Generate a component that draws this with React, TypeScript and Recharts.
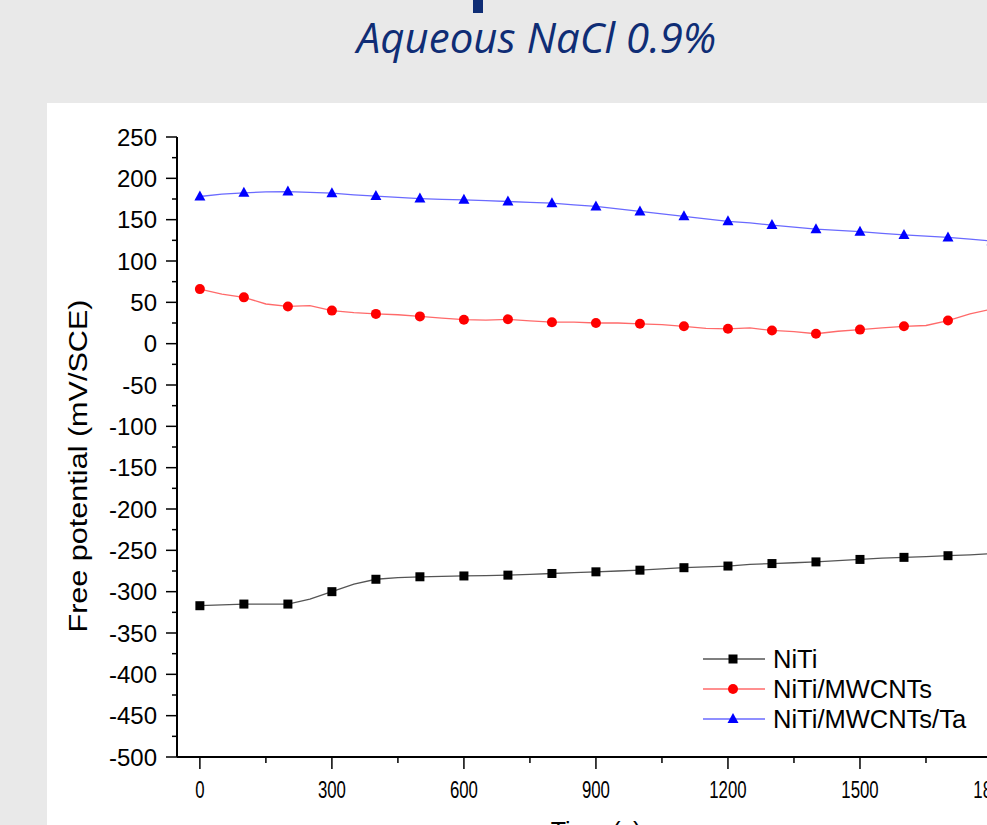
import { LineChart, Line, XAxis, YAxis, Legend } from "recharts";

// time in s, potential in mV/SCE
const TIME = [
	0, 50, 100, 150, 200, 250, 300, 350, 400, 450, 500, 550, 600, 650, 700, 750, 800, 850, 900,
	950, 1000, 1050, 1100, 1150, 1200, 1250, 1300, 1350, 1400, 1450, 1500, 1550, 1600, 1650, 1700,
	1750, 1800,
];
const NITI = [
	-317, -316, -315, -315, -315, -309, -300, -291, -285, -283, -282, -281.5, -281, -280.5, -280,
	-279, -278, -277, -276, -275, -274, -272.5, -271, -270, -269, -267, -266, -265, -264, -262.5,
	-261, -259.5, -258.5, -257.5, -256.5, -255.5, -254,
];
const NITI_MWCNT = [
	66, 60, 56, 48, 45, 46, 40, 37.5, 36, 35, 33, 31, 29, 28.5, 29.5, 27.5, 26, 26, 25, 25, 24, 23,
	21, 18.5, 18, 19, 16, 14.5, 12, 15, 17, 19, 21, 22, 28, 36, 42,
];
const NITI_MWCNT_TA = [
	178, 181, 182.5, 183.5, 184, 183, 182, 180, 178.5, 177, 175.5, 174.5, 174, 173, 172, 171, 170,
	168, 166, 163, 160, 157, 154, 151, 148, 146, 143.5, 141, 138.5, 137, 135.5, 133.5, 131.5, 130,
	128.5, 126.5, 124,
];

const X_TICKS = [0, 150, 300, 450, 600, 750, 900, 1050, 1200, 1350, 1500, 1650, 1800];
const Y_TICKS = [
	-500, -475, -450, -425, -400, -375, -350, -325, -300, -275, -250, -225, -200, -175, -150, -125,
	-100, -75, -50, -25, 0, 25, 50, 75, 100, 125, 150, 175, 200, 225, 250,
];

const SERIES = [
	{ key: "niti", label: "NiTi", stroke: "#555555", fill: "#000000", shape: "square" },
	{ key: "mwcnt", label: "NiTi/MWCNTs", stroke: "#ff6a6a", fill: "#ff0000", shape: "circle" },
	{ key: "ta", label: "NiTi/MWCNTs/Ta", stroke: "#6a6aff", fill: "#0000ff", shape: "triangle" },
] as const;

const data = TIME.map((t, i) => ({
	time: t,
	niti: NITI[i],
	mwcnt: NITI_MWCNT[i],
	ta: NITI_MWCNT_TA[i],
}));

const FONT = "'Liberation Sans', Arial, sans-serif";

function Marker({ shape, cx, cy, fill }: { shape: string; cx: number; cy: number; fill: string }) {
	if (shape === "square") return <rect x={cx - 4.5} y={cy - 4.5} width={9} height={9} fill={fill} />;
	if (shape === "circle") return <circle cx={cx} cy={cy} r={5} fill={fill} />;
	return <polygon points={`${cx},${cy - 6} ${cx + 5.5},${cy + 4} ${cx - 5.5},${cy + 4}`} fill={fill} />;
}

// markers only every 100 s
const makeDot = (shape: string, fill: string) => (props: any) => {
	const { cx, cy, payload, index } = props;
	if (payload.time % 100 !== 0) return <g key={`e-${index}`} />;
	return (
		<g key={`d-${index}`}>
			<Marker shape={shape} cx={cx} cy={cy} fill={fill} />
		</g>
	);
};

const YTick = (props: any) => {
	const { x, y, payload } = props;
	const major = payload.value % 50 === 0;
	return (
		<g>
			<line x1={x - (major ? 11 : 5)} x2={x} y1={y} y2={y} stroke="#000" strokeWidth={1.5} />
			{major && (
				<text x={x - 20} y={y} dy="0.36em" textAnchor="end" fontSize={24} fontFamily={FONT} fill="#000">
					{payload.value}
				</text>
			)}
		</g>
	);
};

const XTick = (props: any) => {
	const { x, y, payload } = props;
	const major = payload.value % 300 === 0;
	return (
		<g>
			<line x1={x} x2={x} y1={y} y2={y + (major ? 12 : 6)} stroke="#000" strokeWidth={1.5} />
			{major && (
				<text
					transform={`translate(${x},${y + 41}) scale(0.7,1)`}
					textAnchor="middle"
					fontSize={24}
					fontFamily={FONT}
					fill="#000"
				>
					{payload.value}
				</text>
			)}
		</g>
	);
};

const LegendBox = () => (
	<div style={{ fontFamily: FONT, fontSize: 25.5, color: "#000" }}>
		{SERIES.map((s) => (
			<div key={s.key} style={{ display: "flex", alignItems: "center", height: 30 }}>
				<svg width={70} height={30}>
					<line x1={0} x2={62} y1={15} y2={15} stroke={s.stroke} strokeWidth={1.5} />
					<Marker shape={s.shape} cx={30} cy={15} fill={s.fill} />
				</svg>
				<span style={{ lineHeight: "30px" }}>{s.label}</span>
			</div>
		))}
	</div>
);

export default function App() {
	return (
		<div
			style={{
				position: "absolute",
				left: 0,
				top: 0,
				width: 987,
				height: 825,
				overflow: "hidden",
				background: "#e9e9e9",
			}}
		>
			<div style={{ position: "absolute", left: 473, top: 0, width: 10, height: 13, background: "#0f2d75" }} />
			<div
				style={{
					position: "absolute",
					left: 0,
					top: 12,
					width: 1073,
					textAlign: "center",
					fontFamily: "'Open Sans', sans-serif",
					fontStyle: "italic",
					fontSize: 42,
					lineHeight: "50px",
					color: "#0f2d75",
				}}
			>
				Aqueous NaCl 0.9%
			</div>
			<div style={{ position: "absolute", left: 47, top: 103, width: 960, height: 740, background: "#ffffff" }} />
			<div style={{ position: "absolute", left: 0, top: 0 }}>
				<LineChart width={1100} height={825} data={data} margin={{ top: 137, right: 86, bottom: 0, left: 0 }}>
					<XAxis
						dataKey="time"
						type="number"
						domain={[-52, 1850]}
						ticks={X_TICKS}
						interval={0}
						height={68}
						tickSize={0}
						tickMargin={0}
						tick={<XTick />}
						axisLine={{ stroke: "#000", strokeWidth: 2 }}
						allowDataOverflow
					/>
					<YAxis
						type="number"
						domain={[-500, 250]}
						ticks={Y_TICKS}
						interval={0}
						width={177}
						tickSize={0}
						tickMargin={0}
						tick={<YTick />}
						axisLine={{ stroke: "#000", strokeWidth: 2 }}
						label={() => (
							<text
								x={87}
								y={466}
								transform="rotate(-90, 87, 466)"
								textAnchor="middle"
								fontSize={25}
								fontFamily={FONT}
								fill="#000"
								textLength={333}
								lengthAdjust="spacingAndGlyphs"
							>
								Free potential (mV/SCE)
							</text>
						)}
					/>
					<Legend
						layout="vertical"
						align="center"
						verticalAlign="middle"
						wrapperStyle={{ left: 703, top: 644, width: 300 }}
						content={() => <LegendBox />}
					/>
					{SERIES.map((s) => (
						<Line
							key={s.key}
							dataKey={s.key}
							name={s.label}
							type="linear"
							stroke={s.stroke}
							strokeWidth={1.3}
							dot={makeDot(s.shape, s.fill)}
							activeDot={false}
							isAnimationActive={false}
						/>
					))}
				</LineChart>
			</div>
			<div
				style={{
					position: "absolute",
					left: 0,
					top: 816,
					width: 1192,
					textAlign: "center",
					fontFamily: FONT,
					fontSize: 25,
					lineHeight: "30px",
				}}
			>
				Time (s)
			</div>
		</div>
	);
}
